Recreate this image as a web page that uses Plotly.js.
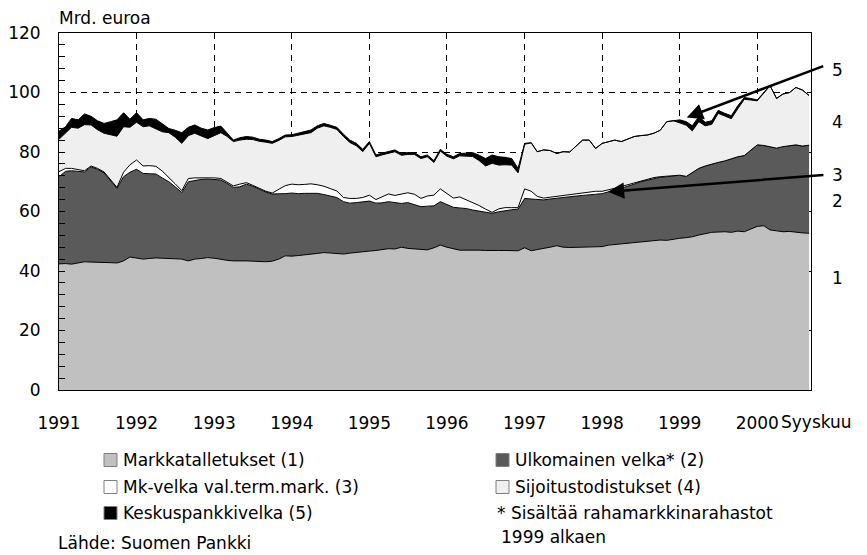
<!DOCTYPE html>
<html>
<head>
<meta charset="utf-8">
<script src="https://cdn.plot.ly/plotly-3.0.1.min.js"></script>
<style>html,body{margin:0;padding:0;background:#fff;}#chart{width:867px;height:555px;}</style>
</head>
<body>
<div id="chart"></div>
<script>
// Monthly data, January 1991 - September 2000 (Mrd. euroa)
const startYear = 1991;
const nMonths = 117;

const markkatalletukset = [42.4,42.5,42.3,42.8,43.1,43.0,43.0,42.9,42.8,42.7,43.4,44.7,
44.3,44.0,44.2,44.4,44.3,44.2,44.1,44.0,43.4,44.0,44.2,44.5,
44.3,43.9,43.6,43.4,43.5,43.4,43.3,43.2,43.1,43.3,44.0,45.1,
45.0,45.2,45.5,45.6,45.9,46.2,46.0,45.9,45.7,46.0,46.3,46.5,
46.7,46.9,47.2,47.5,47.4,48.0,47.6,47.4,47.3,47.1,47.8,48.7,
48.0,47.5,47.0,47.0,47.1,47.0,46.9,46.8,46.9,46.9,46.8,46.8,
47.8,46.8,47.2,47.5,48.0,48.5,48.0,47.9,48.0,48.1,48.2,48.3,
48.2,48.7,48.9,49.2,49.4,49.6,49.7,49.9,50.1,50.4,50.3,50.7,
51.0,51.2,51.5,52.1,52.5,53.0,53.1,53.2,53.0,53.4,53.2,54.0,
55.0,55.2,53.8,53.5,53.2,53.3,53.0,52.8,52.7];

const ulkomainenVelka = [29.3,31.0,31.4,30.8,30.2,32.0,31.2,30.1,27.7,25.1,28.3,28.5,
29.9,28.8,28.5,28.2,27.0,25.8,24.2,22.4,26.6,26.5,26.6,26.4,
26.5,26.7,25.9,24.7,24.8,25.8,25.2,24.3,23.4,22.6,21.9,20.9,
21.2,20.8,20.6,20.6,20.2,19.5,19.2,18.8,17.6,16.8,16.7,16.7,
16.8,15.9,15.7,15.8,15.6,14.7,15.4,14.9,14.3,14.7,14.1,14.6,
14.4,13.9,14.2,14.0,13.4,13.2,12.9,12.6,13.0,13.4,13.8,14.0,
16.6,17.4,16.9,16.4,16.2,16.0,16.7,17.1,17.2,17.3,17.3,17.5,
17.8,17.8,18.3,18.6,19.0,19.6,20.3,20.6,21.0,21.1,21.4,21.3,
21.2,20.6,21.7,22.4,22.8,23.0,23.4,23.8,24.8,25.0,25.6,26.5,
27.4,27.0,27.9,27.8,28.6,28.9,29.4,29.2,29.6];

const mkVelka = [1.7,1.0,0.8,0.5,0.4,0.3,0.3,0.3,0.3,0.3,1.5,2.5,
3.1,2.5,2.7,2.6,2.3,1.5,1.0,0.6,1.1,0.8,0.5,0.5,
0.5,0.5,0.5,0.5,0.9,0.5,0.3,0.3,0.3,0.3,1.5,2.7,
3.0,3.0,3.0,3.1,2.9,2.8,2.5,2.2,1.4,1.6,1.4,1.5,
2.0,1.2,2.0,2.6,2.4,3.2,3.3,3.5,2.8,3.4,3.6,4.3,
3.5,3.1,3.7,3.0,2.4,1.8,1.0,0.3,1.0,1.0,0.7,0.5,
3.2,2.6,1.0,0.6,0.6,0.6,0.5,0.5,0.6,0.8,1.0,1.0,
0.8,0.7,0.6,0.6,0.6,0.5,0.4,0.3,0.3,0.2,0.2,0.1,
0,0,0,0,0,0,0,0,0,0,0,0,
0,0,0,0,0,0,0,0,0];

const sijoitustodistukset = [10.9,12.0,13.8,13.9,15.5,13.8,13.0,13.0,15.0,17.2,15.3,12.6,
12.7,13.2,13.4,12.5,13.2,15.0,15.7,15.9,14.4,15.0,14.0,13.1,
14.2,15.4,15.3,14.9,14.8,14.6,15.4,15.8,16.5,16.7,16.5,16.4,
16.0,16.7,17.1,17.2,19.0,20.3,20.6,20.7,20.5,18.8,17.7,15.4,
17.4,14.4,14.1,13.6,14.7,13.0,12.9,13.4,13.4,13.2,11.0,12.7,
12.7,13.2,13.8,14.6,15.6,15.1,14.5,16.5,14.7,14.4,14.3,11.7,
15.0,16.3,15.0,16.2,15.7,14.4,14.9,14.5,16.2,17.8,17.5,14.4,
16.1,16.3,16.2,15.1,15.3,15.5,15.1,14.9,14.9,15.6,18.3,18.4,
17.6,17.2,13.9,15.7,13.5,13.3,16.5,15.0,13.4,16.1,18.9,17.0,
14.8,17.6,20.6,16.7,17.7,17.8,19.3,18.8,16.7];

const keskuspankkivelka = [2.7,2.0,3.0,2.8,3.6,2.9,3.0,3.3,4.4,5.5,4.7,2.7,
3.2,2.3,2.5,3.3,2.7,1.4,2.3,3.6,2.8,2.8,2.7,2.9,
2.7,2.2,1.2,0.5,0.8,0.9,0.8,0.7,0.7,0.6,0.6,0.6,
0.6,0.6,0.7,0.9,0.8,0.8,0.7,0.7,0.8,0.8,0.8,0.8,
0.6,0.6,0.6,0.6,0.6,0.6,0.6,0.6,0.6,0.6,0.6,0.6,
0.6,0.7,0.8,1.0,1.3,1.8,2.5,2.8,2.8,2.5,2.2,1.5,
0.3,0,0,0,0,0,0,0,0,0,0,0,
0,0,0,0,0,0,0,0,0,0,0,0,
1.0,1.2,1.7,1.7,1.2,1.2,1.0,1.0,1.0,1.0,0.6,0.5,
0.3,0.2,0,0,0,0,0,0,0];

const yearLabels = ['1991','1992','1993','1994','1995','1996','1997','1998','1999','2000'];
const seriesNames = ['Markkatalletukset (1)','Ulkomainen velka* (2)','Mk-velka val.term.mark. (3)','Sijoitustodistukset (4)','Keskuspankkivelka (5)'];
const seriesColors = ['#c0c0c0','#5a5a5a','#ffffff','#efefef','#000000'];

// month dates
const months = [];
for (let i = 0; i < nMonths; i++) {
  const y = startYear + Math.floor(i / 12);
  const m = (i % 12) + 1;
  months.push(y + '-' + String(m).padStart(2, '0') + '-01');
}
const yearTicks = yearLabels.map(y => y + '-01-01');

const seriesValues = [markkatalletukset, ulkomainenVelka, mkVelka, sijoitustodistukset, keskuspankkivelka];
const traces = seriesValues.map((vals, i) => ({
  type: 'scatter', mode: 'lines', x: months, y: vals,
  stackgroup: 'one', name: seriesNames[i],
  line: {color: '#000', width: 1, shape: 'linear'},
  fillcolor: seriesColors[i], hoverinfo: 'skip', showlegend: false
}));

// pixel -> paper helpers (plot area 59..811 x 33..390)
const L = 59, R = 811, T = 33, B = 390;
const W = R - L, H = B - T;
const px = x => (x - L) / W;
const py = y => (B - y) / H;

const FONT = 'DejaVu Sans, Liberation Sans, Arial, sans-serif';
const fs = 17;

const annotations = [];
const shapes = [];

// unit label
annotations.push({xref:'paper', yref:'paper', x: px(57), y: py(18), xanchor:'left', yanchor:'middle',
  text:'Mrd. euroa', showarrow:false, font:{family:FONT, size:fs, color:'#000'}});
// Syyskuu
annotations.push({xref:'paper', yref:'paper', x: px(779), y: py(422), xanchor:'left', yanchor:'middle',
  text:'Syyskuu', showarrow:false, font:{family:FONT, size:fs, color:'#000'}});
// right side series numbers
const sideNums = [['5',70],['4',122],['3',175],['2',201],['1',278]];
sideNums.forEach(([t, y]) => annotations.push({xref:'paper', yref:'paper', x: px(837), y: py(y),
  xanchor:'center', yanchor:'middle', text:t, showarrow:false, font:{family:FONT, size:fs, color:'#000'}}));
// arrows
annotations.push({xref:'x', yref:'y', x:'1999-02-03', y:91.6, ax:138, ay:-52, axref:'pixel', ayref:'pixel',
  text:'', showarrow:true, arrowhead:2, arrowsize:1.3, arrowwidth:2.5, arrowcolor:'#000', standoff:0, startstandoff:0});
annotations.push({xref:'x', yref:'y', x:'1998-01-28', y:66.6, ax:217, ay:-17, axref:'pixel', ayref:'pixel',
  text:'', showarrow:true, arrowhead:2, arrowsize:1.3, arrowwidth:2.5, arrowcolor:'#000', standoff:0, startstandoff:0});

// custom legend
const legendItems = [
  [0, 104, 460], [1, 496, 460],
  [2, 104, 487], [3, 496, 487],
  [4, 104, 513]
];
legendItems.forEach(([i, x, y]) => {
  shapes.push({type:'rect', xref:'paper', yref:'paper', x0: px(x), x1: px(x + 13), y0: py(y + 6.5), y1: py(y - 6.5),
    fillcolor: seriesColors[i], line:{color:'#7f7f7f', width:1}});
  annotations.push({xref:'paper', yref:'paper', x: px(x + 17), y: py(y), xanchor:'left', yanchor:'middle',
    text: seriesNames[i], showarrow:false, font:{family:FONT, size:fs, color:'#000'}});
});
annotations.push({xref:'paper', yref:'paper', x: px(495), y: py(513), xanchor:'left', yanchor:'middle',
  text:'* Sisältää rahamarkkinarahastot', showarrow:false, font:{family:FONT, size:fs, color:'#000'}});
annotations.push({xref:'paper', yref:'paper', x: px(499), y: py(537), xanchor:'left', yanchor:'middle',
  text:'1999 alkaen', showarrow:false, font:{family:FONT, size:fs, color:'#000'}});
annotations.push({xref:'paper', yref:'paper', x: px(56), y: py(543), xanchor:'left', yanchor:'middle',
  text:'Lähde: Suomen Pankki', showarrow:false, font:{family:FONT, size:fs, color:'#000'}});

const layout = {
  width: 867, height: 555,
  margin: {l: L, r: 867 - R, t: T, b: 555 - B, pad: 0},
  paper_bgcolor: '#fff', plot_bgcolor: '#fff',
  showlegend: false,
  font: {family: FONT, size: fs, color: '#000'},
  xaxis: {
    type: 'date', range: ['1991-01-01', '2000-09-10'],
    tickmode: 'array', tickvals: yearTicks, ticktext: yearLabels,
    ticks: '', ticklabelstandoff: 18,
    showgrid: true, gridcolor: '#000', gridwidth: 1, griddash: '6px,5px',
    showline: true, linecolor: '#000', linewidth: 1, mirror: true,
    zeroline: false, tickfont: {family: FONT, size: fs, color: '#000'}
  },
  yaxis: {
    range: [0, 120], tickmode: 'array', tickvals: [0,20,40,60,80,100,120],
    ticks: 'inside', ticklen: 6, tickcolor: '#000', tickwidth: 1,
    minor: {tickmode: 'linear', tick0: 0, dtick: 4, ticks: 'inside', ticklen: 6, tickcolor: '#000', showgrid: false},
    ticklabelstandoff: 14,
    showgrid: true, gridcolor: '#000', gridwidth: 1, griddash: '6px,5px',
    showline: true, linecolor: '#000', linewidth: 1, mirror: true,
    zeroline: false, tickfont: {family: FONT, size: fs, color: '#000'}
  },
  annotations: annotations,
  shapes: shapes
};

Plotly.newPlot('chart', traces, layout, {staticPlot: true, displayModeBar: false});
</script>
</body>
</html>
